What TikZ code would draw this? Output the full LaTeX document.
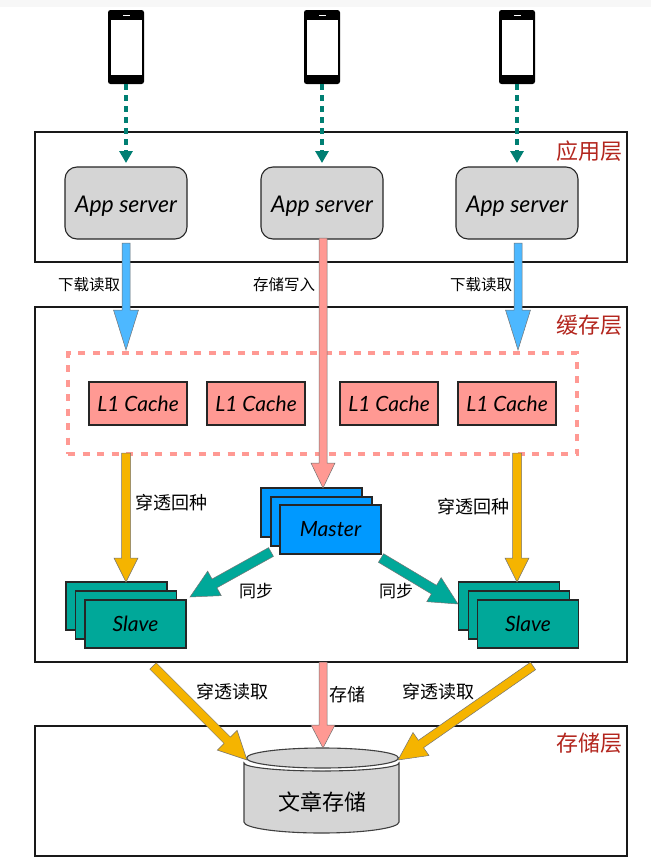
\documentclass[tikz,border=0pt]{standalone}
\usepackage{fontspec}
\setmainfont{Noto Sans CJK SC}
\newfontfamily\latinhand{Lato Italic}
\usetikzlibrary{calc,arrows.meta,shapes.geometric}
\definecolor{boxgrey}{HTML}{D5D5D5}
\definecolor{darkteal}{HTML}{007F73}
\definecolor{arrowblue}{HTML}{4DB8FF}
\definecolor{pinkfill}{HTML}{FF9993}
\definecolor{goldfill}{HTML}{F5B400}
\definecolor{masterblue}{HTML}{0099FF}
\definecolor{slaveteal}{HTML}{00A899}
\definecolor{layerred}{HTML}{B3261E}
\tikzset{
  x=1pt,y=-1pt,
  every node/.style={inner sep=0pt,outer sep=0pt},
  layerbox/.style={draw=black!90,line width=1.6pt,minimum width=592pt},
  layertag/.style={text=layerred,font=\fontsize{22}{22}\selectfont},
  appbox/.style={draw=black!85,line width=1.1pt,fill=boxgrey,rounded corners=12pt,minimum width=122pt,minimum height=72pt,text depth=0pt,font=\latinhand\fontsize{23}{23}\selectfont},
  cachebox/.style={draw=black!85,line width=1.1pt,fill=pinkfill,minimum width=98pt,minimum height=43pt,font=\latinhand\fontsize{21}{21}\selectfont},
  masterbox/.style={draw=black!85,line width=1.1pt,fill=masterblue,minimum width=101pt,minimum height=49pt,font=\latinhand\fontsize{21}{21}\selectfont},
  slavebox/.style={draw=black!85,line width=1.1pt,fill=slaveteal,minimum width=101pt,minimum height=48pt,font=\latinhand\fontsize{21}{21}\selectfont},
  tag/.style={font=\fontsize{15.5}{15.5}\selectfont},
  midtag/.style={font=\fontsize{17}{17}\selectfont},
  bigtag/.style={font=\fontsize{18}{18}\selectfont},
  phonebody/.style={fill=black,rounded corners=2.5pt,minimum width=36pt,minimum height=74pt},
  phonescreen/.style={fill=white,minimum width=31pt,minimum height=55pt},
  phoneslot/.style={fill=white,minimum width=7pt,minimum height=1.6pt},
  wirearrow/.style={darkteal,line width=3.2pt,dash pattern=on 6pt off 5pt,-{Triangle[length=12pt,width=13pt]}},
  blockline/.style={draw=black!55,line width=0.5pt}
}
% from, to, shaft width, head width, head length, colour
\newcommand{\blockarrow}[6]{%
  \coordinate (hb) at ($(#2)!#5!(#1)$);
  \path[blockline,fill=#6]
    ($(#1)!#3/2!90:(#2)$) -- ($(hb)!#3/2!90:(#2)$) -- ($(hb)!#4/2!90:(#2)$) -- (#2)
    -- ($(hb)!#4/2!-90:(#2)$) -- ($(hb)!#3/2!-90:(#2)$) -- ($(#1)!#3/2!-90:(#2)$) -- cycle;
}
\begin{document}
\begin{tikzpicture}
\useasboundingbox (0,0) rectangle (651,862);
\fill[white] (0,0) rectangle (651,862);
\fill[black!3] (0,0) rectangle (651,7);

% layers
\node[layerbox,minimum height=130pt] (appLayer) at (331,197) {};
\node[layerbox,minimum height=355pt] (cacheLayer) at (331,484.5) {};
\node[layerbox,minimum height=130pt] (storeLayer) at (331,791) {};
\node[layertag] (tagA) at (589,151) {应用层};
\node[layertag] (tagB) at (589,325) {缓存层};
\node[layertag] (tagC) at (589,743) {存储层};

% phones
\foreach \n/\x in {1/126,2/322,3/517}{
  \node[phonebody] (phone\n) at (\x,47) {};
  \node[phonescreen] (screen\n) at (\x,47.5) {};
  \node[phoneslot] (slot\n) at (\x,15.5) {};
}

% app servers
\node[appbox] (app1) at (126,203) {\raisebox{-2.5pt}{App server}};
\node[appbox] (app2) at (322,203) {\raisebox{-2.5pt}{App server}};
\node[appbox] (app3) at (517,203) {\raisebox{-2.5pt}{App server}};

% L1 group
\node[draw=pinkfill,line width=3.5pt,dash pattern=on 7pt off 7.5pt,minimum width=509pt,minimum height=101pt] (l1group) at (322.5,403.5) {};
\node[cachebox] (c1) at (138,403.5) {\raisebox{-1.5pt}{L1 Cache}};
\node[cachebox] (c2) at (256,403.5) {\raisebox{-1.5pt}{L1 Cache}};
\node[cachebox] (c3) at (389,403.5) {\raisebox{-1.5pt}{L1 Cache}};
\node[cachebox] (c4) at (507,403.5) {\raisebox{-1.5pt}{L1 Cache}};

% master
\node[masterbox] (m1) at (311.5,512.5) {};
\node[masterbox] (m2) at (321.5,521.5) {};
\node[masterbox] (m3) at (330.5,529.5) {\raisebox{-1pt}{Master}};

% slaves
\node[slavebox] (sl1) at (116.5,606) {};
\node[slavebox] (sl2) at (126,615) {};
\node[slavebox] (sl3) at (135.5,624) {\raisebox{-1pt}{Slave}};
\node[slavebox] (sr1) at (509,606) {};
\node[slavebox] (sr2) at (519,615) {};
\node[slavebox] (sr3) at (528,624) {\raisebox{-1pt}{Slave}};

% cylinder
\path[draw=black!75,line width=1.1pt,fill=boxgrey]
  (244,763) -- (244,822) arc[start angle=180,end angle=360,x radius=77.5pt,y radius=11pt] -- (399,763)
  arc[start angle=0,end angle=180,x radius=77.5pt,y radius=-8pt] -- cycle;
\path[fill=white] (244.5,758.5) arc[start angle=180,end angle=360,x radius=78pt,y radius=11.5pt] -- cycle;
\path[draw=black!75,line width=1.1pt,fill=boxgrey] (246.5,758) arc[start angle=180,end angle=540,x radius=76pt,y radius=10pt] -- cycle;
\coordinate (dbtop) at (322.5,748);
\node[font=\fontsize{22}{22}\selectfont] (db) at (322.5,802) {文章存储};

% dashed access arrows
\foreach \n in {1,2,3}{
  \coordinate (pt\n) at ($(app\n.north)+(0,-4)$);
  \draw[wirearrow] (phone\n.south) -- (pt\n);
}

% endpoints
\coordinate (a1s) at ($(app1.south)+(0,4)$);
\coordinate (a1t) at ($(app1.south |- l1group.north)+(0,-3)$);
\coordinate (a3s) at ($(app3.south)+(1,4)$);
\coordinate (a3t) at ($(app3.south |- l1group.north)+(1,-3)$);
\coordinate (a2s) at ($(app2.south)+(1,-1)$);
\coordinate (a2t) at ($(m1.north -| app2)+(1,0)$);
\coordinate (g1s) at ($(app1.south |- l1group.south)+(0,-1)$);
\coordinate (g1t) at (sl1.north -| app1.south);
\coordinate (g3s) at ($(app3.south |- l1group.south)+(0,-1)$);
\coordinate (g3t) at (sr1.north -| app3.south);
\coordinate (ms1) at (271,552);
\coordinate (mt1) at (190,597);
\coordinate (ms2) at (381,558);
\coordinate (mt2) at (458,604);
\coordinate (ys1) at (153,666);
\coordinate (yt1) at (247,760);
\coordinate (ys2) at (533,666);
\coordinate (yt2) at (398,760);
\coordinate (ps) at (323,662);
\coordinate (pt) at (dbtop -| ps);

\blockarrow{a1s}{a1t}{8pt}{25pt}{40pt}{arrowblue}
\blockarrow{a3s}{a3t}{8pt}{25pt}{40pt}{arrowblue}
\blockarrow{a2s}{a2t}{8pt}{24pt}{25pt}{pinkfill}
\blockarrow{g1s}{g1t}{9pt}{24pt}{24pt}{goldfill}
\blockarrow{g3s}{g3t}{9pt}{24pt}{24pt}{goldfill}
\blockarrow{ms1}{mt1}{10pt}{28pt}{28pt}{slaveteal}
\blockarrow{ms2}{mt2}{10pt}{28pt}{28pt}{slaveteal}
\blockarrow{ys1}{yt1}{9pt}{28pt}{28pt}{goldfill}
\blockarrow{ys2}{yt2}{9pt}{28pt}{28pt}{goldfill}
\blockarrow{ps}{pt}{8pt}{24pt}{23pt}{pinkfill}

% labels
\node[tag] (t1) at (89,285) {下载读取};
\node[tag] (t2) at (284,285) {存储写入};
\node[tag] (t3) at (481,285) {下载读取};
\node[bigtag] (t4) at (171,503) {穿透回种};
\node[bigtag] (t5) at (473,507) {穿透回种};
\node[midtag] (t6) at (256,591) {同步};
\node[midtag] (t7) at (396,591) {同步};
\node[bigtag] (t8) at (232,692) {穿透读取};
\node[bigtag] (t9) at (347,695) {存储};
\node[bigtag] (t10) at (438,692) {穿透读取};
\end{tikzpicture}
\end{document}
